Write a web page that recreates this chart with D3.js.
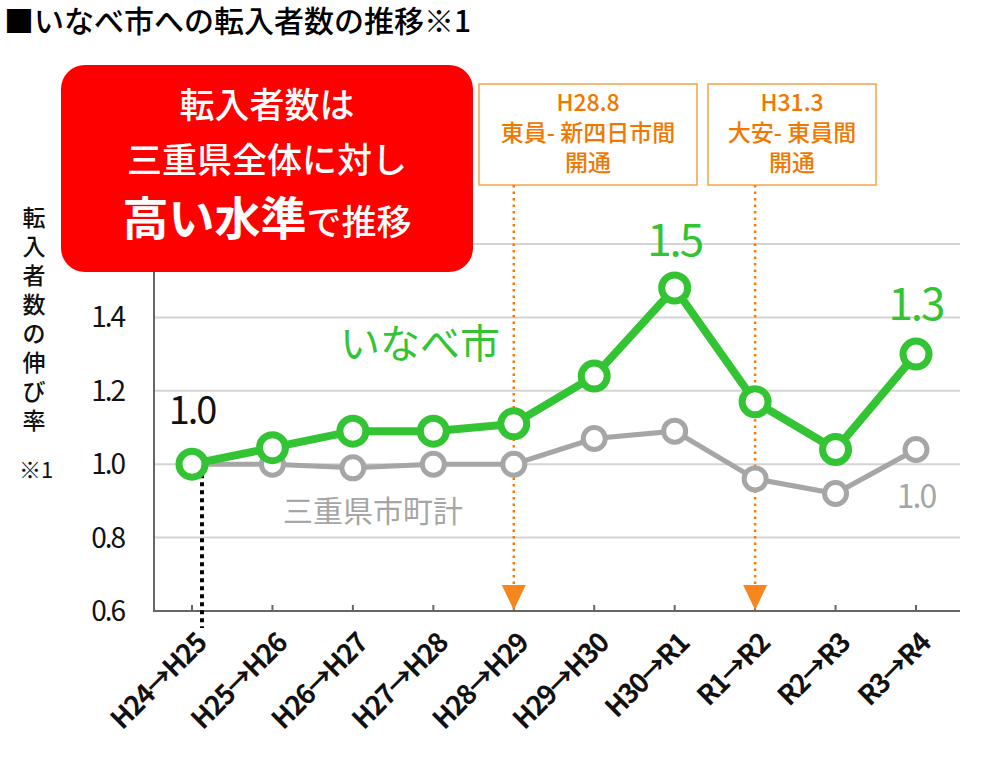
<!DOCTYPE html>
<html lang="ja">
<head>
<meta charset="utf-8">
<script src="https://d3js.org/d3.v7.min.js"></script>
<style>
body { margin:0; background:#fff; font-family:"Noto Sans CJK JP","Noto Sans",sans-serif; }
text { font-family:"Noto Sans CJK JP","Noto Sans",sans-serif; }
</style>
</head>
<body>
<script>
var categories = ["H24→H25","H25→H26","H26→H27","H27→H28","H28→H29","H29→H30","H30→R1","R1→R2","R2→R3","R3→R4"];
var inabe = [1.00, 1.045, 1.09, 1.09, 1.11, 1.24, 1.48, 1.17, 1.04, 1.30];
var mie = [1.00, 1.00, 0.99, 1.00, 1.00, 1.07, 1.09, 0.96, 0.92, 1.04];
var yTicks = [0.6, 0.8, 1.0, 1.2, 1.4, 1.6];
var yTickLabels = ["0.6", "0.8", "1.0", "1.2", "1.4", ""];

var width = 990, height = 784;
var svg = d3.select("body").append("svg").attr("width", width).attr("height", height);

var x = d3.scalePoint().domain(categories).range([192, 916]);
var y = d3.scaleLinear().domain([0.6, 1.6]).range([611, 244]);

// title
svg.append("text").attr("x", 4).attr("y", 32).attr("font-size", 30).attr("font-weight", 500).attr("fill", "#000")
  .text("■いなべ市への転入者数の推移※1");

// gridlines
svg.append("g").selectAll("line").data(yTicks.slice(1)).enter().append("line")
  .attr("x1", 154).attr("x2", 960).attr("y1", d => y(d)).attr("y2", d => y(d))
  .attr("stroke", "#d4d4d4").attr("stroke-width", 2);

// y tick labels
svg.append("g").selectAll("text").data(yTicks).enter().append("text")
  .attr("x", 124).attr("y", d => y(d) + 10).attr("text-anchor", "end")
  .attr("font-size", 28).attr("fill", "#111").attr("font-family", "'Open Sans',sans-serif")
  .attr("letter-spacing", -2)
  .text((d, i) => yTickLabels[i]);

// axes lines
svg.append("line").attr("x1", 154).attr("x2", 154).attr("y1", 244).attr("y2", 611).attr("stroke", "#666").attr("stroke-width", 2);
svg.append("line").attr("x1", 153).attr("x2", 960).attr("y1", 611).attr("y2", 611).attr("stroke", "#666").attr("stroke-width", 2);
svg.append("g").selectAll("line").data(categories).enter().append("line")
  .attr("x1", d => x(d)).attr("x2", d => x(d)).attr("y1", 605).attr("y2", 611)
  .attr("stroke", "#666").attr("stroke-width", 2);

// x labels rotated
svg.append("g").selectAll("text").data(categories).enter().append("text")
  .attr("transform", d => "translate(" + (x(d) + 16) + ",645) rotate(-45)")
  .attr("text-anchor", "end").attr("font-size", 27).attr("font-weight", "bold").attr("fill", "#111")
  .attr("font-family", "'Open Sans',sans-serif").attr("letter-spacing", -1.5)
  .text(d => d);

// y axis title (vertical)
var yTitle = "転入者数の伸び率";
svg.append("g").selectAll("text").data(yTitle.split("")).enter().append("text")
  .attr("x", 34).attr("y", (d, i) => 226 + i * 29).attr("text-anchor", "middle")
  .attr("font-size", 23).attr("font-weight", 500).attr("fill", "#111").text(d => d);
svg.append("text").attr("x", 36).attr("y", 478).attr("text-anchor", "middle")
  .attr("font-size", 22).attr("fill", "#111").text("※1");

// black dotted line from first point
svg.append("line").attr("x1", 202).attr("x2", 202).attr("y1", y(1.0) + 10).attr("y2", 628)
  .attr("stroke", "#000").attr("stroke-width", 4).attr("stroke-dasharray", "4,4");

// orange event markers
var events = [
  {cat: "H28→H29", lines: ["H28.8", "東員- 新四日市間", "開通"], bx: 479, bw: 218},
  {cat: "R1→R2", lines: ["H31.3", "大安- 東員間", "開通"], bx: 708, bw: 168}
];
events.forEach(function(e) {
  var cx = x(e.cat);
  svg.append("rect").attr("x", e.bx).attr("y", 84).attr("width", e.bw).attr("height", 101)
    .attr("fill", "#fff").attr("stroke", "#f7a24a").attr("stroke-width", 1.5);
  e.lines.forEach(function(t, i) {
    svg.append("text").attr("x", e.bx + e.bw / 2).attr("y", 111 + i * 30).attr("text-anchor", "middle")
      .attr("font-size", 23).attr("font-weight", 500).attr("fill", "#f07800").text(t);
  });
  svg.append("line").attr("x1", cx).attr("x2", cx).attr("y1", 185).attr("y2", 585)
    .attr("stroke", "#f57c00").attr("stroke-width", 2.5).attr("stroke-dasharray", "2.5,4");
  svg.append("path").attr("d", "M" + (cx - 12) + ",585 L" + (cx + 12) + ",585 L" + cx + ",610 Z")
    .attr("fill", "#f7871c");
});

var line = d3.line().x((d, i) => x(categories[i])).y(d => y(d));

// gray series
svg.append("path").datum(mie).attr("d", line).attr("fill", "none")
  .attr("stroke", "#a6a6a6").attr("stroke-width", 5);
svg.append("g").selectAll("circle").data(mie).enter().append("circle")
  .attr("cx", (d, i) => x(categories[i])).attr("cy", d => y(d)).attr("r", 11)
  .attr("fill", "#fff").attr("stroke", "#a6a6a6").attr("stroke-width", 5);

// green series
svg.append("path").datum(inabe).attr("d", line).attr("fill", "none")
  .attr("stroke", "#33c433").attr("stroke-width", 8);
svg.append("g").selectAll("circle").data(inabe).enter().append("circle")
  .attr("cx", (d, i) => x(categories[i])).attr("cy", d => y(d)).attr("r", 13)
  .attr("fill", "#fff").attr("stroke", "#33c433").attr("stroke-width", 7);

// value labels
svg.append("text").attr("x", 192).attr("y", 424).attr("text-anchor", "middle").attr("font-size", 38)
  .attr("font-family", "'Open Sans',sans-serif").attr("letter-spacing", -2).attr("fill", "#111").text("1.0");
svg.append("text").attr("x", x("H30→R1")).attr("y", 256).attr("text-anchor", "middle").attr("font-size", 44)
  .attr("font-family", "'Open Sans',sans-serif").attr("letter-spacing", -2).attr("fill", "#33c433").text("1.5");
svg.append("text").attr("x", x("R3→R4")).attr("y", 320).attr("text-anchor", "middle").attr("font-size", 44)
  .attr("font-family", "'Open Sans',sans-serif").attr("letter-spacing", -2).attr("fill", "#33c433").text("1.3");
svg.append("text").attr("x", x("R3→R4")).attr("y", 508).attr("text-anchor", "middle").attr("font-size", 32)
  .attr("font-family", "'Open Sans',sans-serif").attr("letter-spacing", -2).attr("fill", "#a6a6a6").text("1.0");

// series labels
svg.append("text").attr("x", 340).attr("y", 358).attr("font-size", 40).attr("fill", "#33c433").text("いなべ市");
svg.append("text").attr("x", 283).attr("y", 522).attr("font-size", 30).attr("fill", "#a6a6a6").text("三重県市町計");

// red callout
svg.append("rect").attr("x", 61).attr("y", 65).attr("width", 412).attr("height", 207).attr("rx", 24)
  .attr("fill", "#ff0000");
svg.append("text").attr("x", 267).attr("y", 118).attr("text-anchor", "middle").attr("font-size", 35)
  .attr("font-weight", 500).attr("fill", "#fff").text("転入者数は");
svg.append("text").attr("x", 267).attr("y", 173).attr("text-anchor", "middle").attr("font-size", 35)
  .attr("font-weight", 500).attr("fill", "#fff").text("三重県全体に対し");
var t3 = svg.append("text").attr("x", 267).attr("y", 235).attr("text-anchor", "middle").attr("fill", "#fff");
t3.append("tspan").attr("font-size", 46).attr("font-weight", "bold").text("高い水準");
t3.append("tspan").attr("font-size", 35).attr("font-weight", 500).text("で推移");
</script>
</body>
</html>
